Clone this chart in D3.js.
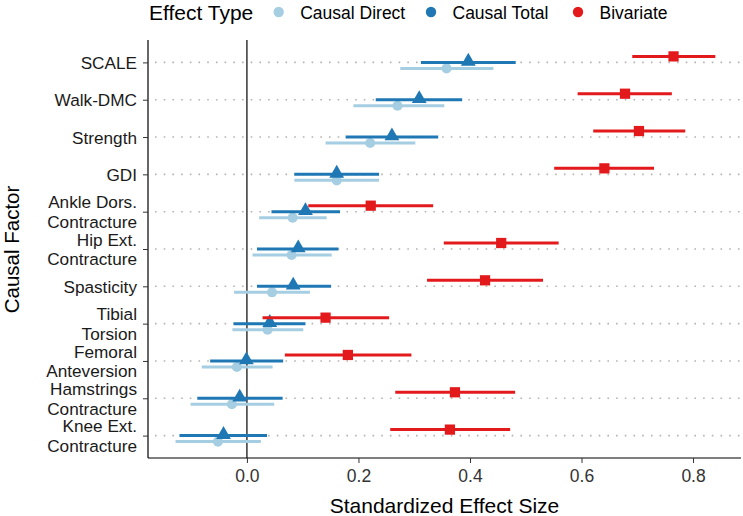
<!DOCTYPE html>
<html><head><meta charset="utf-8">
<script src="https://cdn.jsdelivr.net/npm/d3@7"></script>
<style>body{margin:0;background:#fff}svg{display:block;font-family:"Liberation Sans",Arial,sans-serif}</style>
</head><body><svg id="c" width="743" height="516"></svg>
<script>
const factors = ["SCALE","Walk-DMC","Strength","GDI","Ankle Dors.\nContracture","Hip Ext.\nContracture","Spasticity","Tibial\nTorsion","Femoral\nAnteversion","Hamstrings\nContracture","Knee Ext.\nContracture"];
const seriesNames = ["Causal Direct","Causal Total","Bivariate"];
const directEst = [0.358,0.270,0.221,0.161,0.082,0.080,0.045,0.037,-0.018,-0.027,-0.052];
const directLo  = [0.275,0.191,0.141,0.085,0.022,0.010,-0.023,-0.026,-0.081,-0.101,-0.128];
const directHi  = [0.442,0.354,0.302,0.237,0.143,0.152,0.113,0.101,0.046,0.049,0.025];
const totalEst  = [0.397,0.309,0.260,0.161,0.105,0.092,0.083,0.041,-0.001,-0.013,-0.042];
const totalLo   = [0.312,0.231,0.177,0.085,0.044,0.018,0.018,-0.024,-0.066,-0.089,-0.121];
const totalHi   = [0.482,0.386,0.343,0.237,0.167,0.164,0.151,0.105,0.065,0.064,0.036];
const bivEst    = [0.765,0.678,0.703,0.641,0.222,0.456,0.427,0.141,0.181,0.373,0.364];
const bivLo     = [0.691,0.593,0.621,0.551,0.110,0.353,0.323,0.028,0.068,0.266,0.257];
const bivHi     = [0.840,0.762,0.786,0.730,0.334,0.559,0.531,0.255,0.295,0.481,0.472];
const xTicks = [0.0,0.2,0.4,0.6,0.8];

const colors = {"Causal Direct":"#a6cee3","Causal Total":"#1f78b4","Bivariate":"#e31a1c"};
const offsets = {"Causal Direct":6,"Causal Total":0,"Bivariate":-6};
const shapes = {"Causal Direct":d3.symbolCircle,"Causal Total":d3.symbolTriangle,"Bivariate":d3.symbolSquare};
const sizes = {"Causal Direct":80,"Causal Total":95,"Bivariate":105};

const series = [
  {name:"Causal Direct", est:directEst, lo:directLo, hi:directHi},
  {name:"Causal Total", est:totalEst, lo:totalLo, hi:totalHi},
  {name:"Bivariate", est:bivEst, lo:bivLo, hi:bivHi}
];

const L=148,R=741,T=40,B=458;
const svg=d3.select("#c");
const x=d3.scaleLinear().domain([-0.1774,0.886]).range([L,R]);
const y=d3.scalePoint().domain(factors).range([T,B]).padding(0.6);

// gridlines
svg.append("g").selectAll("line").data(factors).join("line")
  .attr("x1",L).attr("x2",R).attr("y1",d=>y(d)).attr("y2",d=>y(d))
  .attr("stroke","#b3b3b3").attr("stroke-width",1.6).attr("stroke-dasharray","1.6 7.1").attr("stroke-dashoffset",-7);

// zero line
svg.append("line").attr("x1",x(0)).attr("x2",x(0)).attr("y1",T).attr("y2",B).attr("stroke","#000").attr("stroke-width",1.2);

// series
series.forEach(s=>{
  const g=svg.append("g");
  const rows=factors.map((f,i)=>({f,est:s.est[i],lo:s.lo[i],hi:s.hi[i]}));
  g.selectAll("line").data(rows).join("line")
    .attr("x1",d=>x(d.lo)).attr("x2",d=>x(d.hi))
    .attr("y1",d=>y(d.f)+offsets[s.name]).attr("y2",d=>y(d.f)+offsets[s.name])
    .attr("stroke",colors[s.name]).attr("stroke-width",3);
  g.selectAll("path").data(rows).join("path")
    .attr("d",d3.symbol().type(shapes[s.name]).size(sizes[s.name]))
    .attr("transform",d=>`translate(${x(d.est)},${y(d.f)+offsets[s.name]+(s.name==="Causal Total"?-1:0)})`)
    .attr("fill",colors[s.name]);
});

// axes
const xa=svg.append("g").attr("transform",`translate(0,${B})`)
  .call(d3.axisBottom(x).tickValues(xTicks).tickFormat(d3.format(".1f")).tickSizeOuter(0).tickSize(5));
xa.select(".domain").attr("d",`M${L},0H${R}`).attr("stroke","#000").attr("stroke-width",1.2);
xa.selectAll(".tick line").attr("stroke","#333");
xa.selectAll(".tick text").attr("font-size",17.5).attr("fill","#333").attr("y",0).attr("dy",null)
  .attr("transform","translate(0,24)").attr("font-family","Liberation Sans, Arial, sans-serif");

const ya=svg.append("g").attr("transform",`translate(${L},0)`)
  .call(d3.axisLeft(y).tickSize(5).tickSizeOuter(0).tickFormat(""));
ya.select(".domain").attr("d",`M0,${T}V${B}`).attr("stroke","#000").attr("stroke-width",1.2);
ya.selectAll(".tick line").attr("stroke","#333");
ya.selectAll(".tick").each(function(d){
  const lines=d.split("\n");
  const t=d3.select(this).append("text").attr("x",-11).attr("text-anchor","end")
    .attr("font-size",17.2).attr("fill","#1a1a1a");
  const lh=19.6;
  lines.forEach((ln,i)=>{
    t.append("tspan").attr("x",-11).attr("y",(i-(lines.length-1)/2)*lh+6).text(ln);
  });
});

// axis titles
svg.append("text").attr("x",(L+R)/2).attr("y",513).attr("text-anchor","middle").attr("font-size",21).attr("fill","#000").text("Standardized Effect Size");
svg.append("text").attr("transform",`translate(18.5,249.5) rotate(-90)`).attr("text-anchor","middle").attr("font-size",20.5).attr("fill","#000").text("Causal Factor");

// legend
const lg=svg.append("g");
lg.append("text").attr("x",149).attr("y",19.5).attr("font-size",21).attr("fill","#000").text("Effect Type");
const legX=[278.7,431,578];
seriesNames.forEach((n,i)=>{
  lg.append("circle").attr("cx",legX[i]).attr("cy",12).attr("r",5.2).attr("fill",colors[n]);
  lg.append("text").attr("x",legX[i]+21.5).attr("y",18.5).attr("font-size",17.5).attr("fill","#000").text(n);
});
</script></body></html>
